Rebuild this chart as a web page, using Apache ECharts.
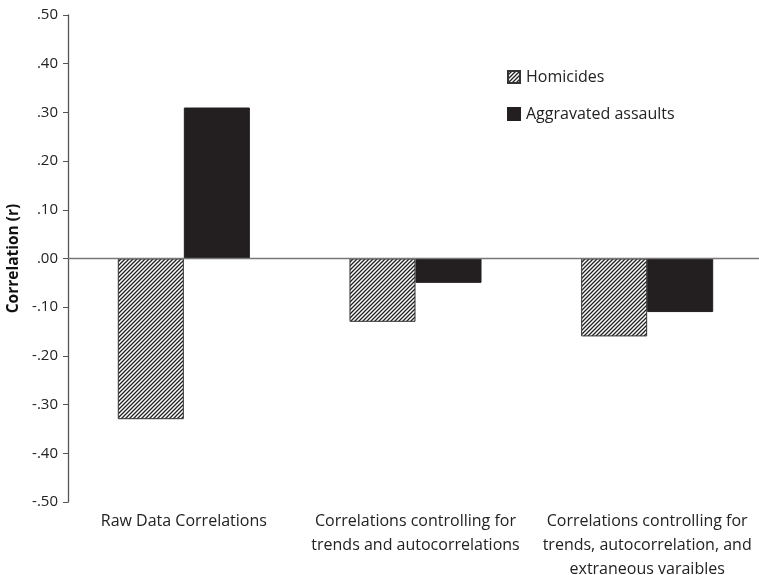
<!DOCTYPE html>
<html><head><meta charset="utf-8">
<script src="https://cdn.jsdelivr.net/npm/echarts@6/dist/echarts.min.js"></script>
<style>html,body{margin:0;padding:0;background:#fff}#c{width:759px;height:575px}</style>
</head><body><div id="c"></div>
<script>
var categories = ["Raw Data Correlations", "Correlations controlling for\ntrends and autocorrelations", "Correlations controlling for\ntrends, autocorrelation, and\nextraneous varaibles"];
var homicides = [-0.33, -0.13, -0.16];
var assaults = [0.31, -0.05, -0.11];
var seriesNames = ["Homicides", "Aggravated assaults"];

var pc = document.createElement('canvas');
pc.width = 4; pc.height = 4;
var ctx = pc.getContext('2d');
ctx.fillStyle = '#fff'; ctx.fillRect(0,0,4,4);
ctx.strokeStyle = '#222'; ctx.lineWidth = 1.3;
ctx.beginPath();
ctx.moveTo(-1,5); ctx.lineTo(5,-1);
ctx.moveTo(-1,1); ctx.lineTo(1,-1);
ctx.moveTo(3,5); ctx.lineTo(5,3);
ctx.stroke();
var hatch = {image: pc, repeat: 'repeat'};

var font = '"Open Sans", "Noto Sans", sans-serif';
var chart = echarts.init(document.getElementById('c'));
chart.setOption({
  animation: false,
  grid: {left: 68, top: 15, bottom: 73, right: -4, containLabel: false, outerBoundsMode: 'none'},
  legend: {
    orient: 'vertical', left: 502, top: 61, itemGap: 15, itemWidth: 12, itemHeight: 12,
    icon: 'rect',
    textStyle: {fontFamily: font, fontSize: 16, color: '#222', padding: [0,0,0,1], lineHeight: 22},
    data: seriesNames
  },
  xAxis: {
    type: 'category', data: categories, position: 'bottom',
    axisLine: {show: false, onZero: false}, axisTick: {show: false},
    axisLabel: {fontFamily: font, fontSize: 16, color: '#222', margin: 7, lineHeight: 24, interval: 0}
  },
  yAxis: {
    type: 'value', min: -0.5, max: 0.5, interval: 0.1,
    name: 'Correlation (r)', nameLocation: 'middle', nameGap: 38,
    nameTextStyle: {fontFamily: font, fontSize: 15.5, fontWeight: 'bold', color: '#111'},
    axisLine: {show: true, lineStyle: {color: '#555', width: 1.3}},
    axisTick: {show: true, length: 5, lineStyle: {color: '#555'}},
    splitLine: {show: false},
    axisLabel: {fontFamily: font, fontSize: 15, color: '#222', margin: 10,
      formatter: function(v){ var s = Math.abs(v).toFixed(2).replace(/^0/, ''); return (v < -1e-9 ? '-' : '') + s; }}
  },
  series: [
    {name: seriesNames[0], type: 'bar', data: homicides, barWidth: '28.5%', barGap: '0%',
      itemStyle: {color: hatch, borderColor: '#333', borderWidth: 1},
      markLine: {silent: true, symbol: 'none', label: {show: false},
        lineStyle: {color: '#777', type: 'solid', width: 1.3}, data: [{yAxis: 0}]}},
    {name: seriesNames[1], type: 'bar', data: assaults, barWidth: '28.5%', barGap: '0%',
      itemStyle: {color: '#231f20', borderColor: '#231f20', borderWidth: 1}}
  ]
});
</script></body></html>
